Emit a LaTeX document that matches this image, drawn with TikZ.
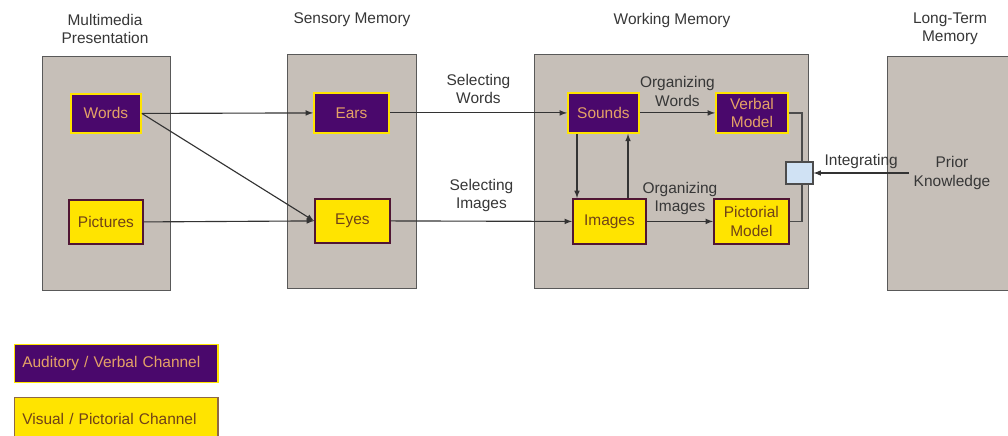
\documentclass[tikz,border=0pt]{standalone}
\usepackage{fontspec}
\setmainfont{Liberation Sans}
\usepackage{tikz}
\usetikzlibrary{calc}
\definecolor{panelgray}{RGB}{198,191,184}
\definecolor{chanpurple}{RGB}{74,8,108}
\definecolor{chanyellow}{RGB}{255,228,0}
\definecolor{wordtan}{RGB}{228,162,102}
\definecolor{picbrown}{RGB}{112,66,24}
\definecolor{boxdark}{RGB}{80,22,52}
\definecolor{integblue}{RGB}{208,226,244}
\definecolor{titlegray}{RGB}{55,55,55}
\tikzstyle{panel} = [rectangle, draw=black!65, line width=0.8pt, fill=panelgray, anchor=north west, minimum width=3.2cm, minimum height=5.85cm]
\tikzstyle{verbal} = [rectangle, draw=chanyellow, line width=1.3pt, fill=chanpurple, text=wordtan, minimum height=1cm, minimum width=1.8cm, text centered, align=center, anchor=north west, inner sep=1pt]
\tikzstyle{visual} = [rectangle, draw=boxdark, line width=1.3pt, fill=chanyellow, text=picbrown, minimum height=1.1cm, minimum width=1.85cm, text centered, align=center, anchor=north west, inner sep=1pt]
\tikzstyle{title} = [text=titlegray, align=center]
\tikzstyle{arr} = [->, >=latex, draw=black!80, line width=0.8pt]

\begin{document}
\begin{tikzpicture}[x=0.025cm, y=-0.025cm, font=\fontsize{11}{13}\selectfont]
            \clip (0,0) rectangle (1008,435);
            \fill[white] (0,0) rectangle (1008,435);

            % panels
            \node (mmp) [panel] at (42,56) {};
            \node (sen) [panel, minimum width=3.225cm] at (287,54) {};
            \node (wm) [panel, minimum width=6.85cm] at (534,54) {};
            \node (ltm) [panel, minimum width=3.4cm] at (887,56) {};

            \node [title] at (105,29) {Multimedia\\Presentation};
            \node [title] at (352,20) {Sensory Memory};
            \node [title] at (672,20) {Working Memory};
            \node [title] at (950,29) {Long-Term\\Memory};

            % channel boxes
            \node (words) [verbal, minimum width=1.75cm, minimum height=0.975cm] at (70,93) {Words};
            \node (pictures) [visual] at (68,199) {Pictures};
            \node (ears) [verbal, minimum width=1.875cm] at (313,92) {Ears};
            \node (eyes) [visual, minimum width=1.875cm] at (314,198) {Eyes};
            \node (sounds) [verbal, minimum width=1.775cm] at (567,92) {Sounds};
            \node (images) [visual, minimum width=1.825cm, minimum height=1.125cm] at (572,198) {Images};
            \node (verbmod) [verbal] at (715,92) {Verbal\\Model};
            \node (pictmod) [visual, minimum width=1.875cm, minimum height=1.125cm] at (713,198) {Pictorial\\Model};

            \node (prior) [text=titlegray, align=center] at (952,173) {Prior\\Knowledge};

            % arrows
            \draw[arr] (words.east) -- (ears.west);
            \draw[arr] (words.east) -- (eyes.west);
            \draw[arr] (pictures.east) -- (eyes.west);
            \draw[arr] (ears.east) -- node[above=3pt, title] {Selecting\\Words} (sounds.west);
            \draw[arr] (eyes.east) -- node[above=3pt, title] {Selecting\\Images} (images.west);
            \draw[arr] (sounds.east) -- node[above=1pt, title] {Organizing\\Words} (verbmod.west);
            \draw[arr] (images.east) -- node[above=1pt, title] {Organizing\\Images} (pictmod.west);
            \draw[arr] ([xshift=0.25cm]sounds.south west) -- ([xshift=0.25cm]sounds.south west |- images.north);
            \draw[arr] ([xshift=1.4cm]images.north west) -- ([xshift=1.4cm]images.north west |- sounds.south);

            \draw[black!70, line width=1pt] (verbmod.east) -- ++(13,0) |- (pictmod.east);
            \node (integ) [rectangle, draw=black!70, line width=0.8pt, fill=integblue, minimum width=0.675cm, minimum height=0.55cm] at (799.5,173) {};
            \draw[arr] (prior.west) -- node[above=-1pt, title] {Integrating} (integ.east);

            % legend
            \node (audleg) [verbal, align=left, text width=4.7cm, inner xsep=0.19cm, minimum height=0.95cm, line width=1pt] at (14,344) {Auditory / Verbal Channel};
            \node (visleg) [visual, align=left, text width=4.7cm, inner xsep=0.19cm, minimum height=1.05cm, line width=1pt, draw=picbrown!80] at (14,397) {Visual / Pictorial Channel};
        \end{tikzpicture}
\end{document}
